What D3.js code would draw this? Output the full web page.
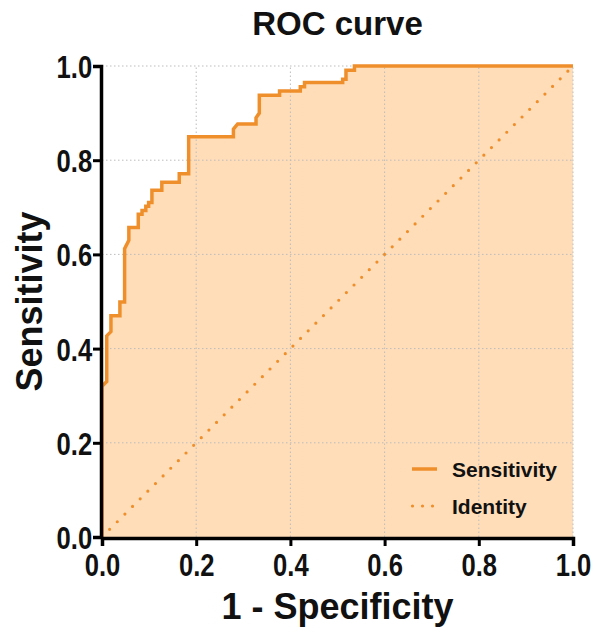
<!DOCTYPE html>
<html><head><meta charset="utf-8">
<script src="https://cdn.jsdelivr.net/npm/d3@7"></script>
<style>
html,body{margin:0;padding:0;background:#fff;}
text{font-family:"Liberation Sans",Arial,sans-serif;font-weight:bold;fill:#111;}
</style></head>
<body><svg id="c" width="597" height="633"></svg>
<script>
// ROC curve points (1 - specificity, sensitivity)
const fpr = [0,0,0.010,0.010,0.019,0.019,0.038,0.038,0.048,0.048,0.057,0.057,0.077,0.077,0.085,0.085,0.093,0.093,0.099,0.099,0.106,0.106,0.127,0.127,0.164,0.164,0.184,0.184,0.279,0.279,0.288,0.327,0.327,0.334,0.334,0.377,0.377,0.421,0.421,0.430,0.430,0.511,0.511,0.518,0.518,0.536,0.536,1];
const tpr = [0,0.320,0.330,0.427,0.436,0.470,0.470,0.499,0.499,0.612,0.630,0.657,0.657,0.685,0.685,0.693,0.693,0.702,0.702,0.710,0.710,0.736,0.736,0.753,0.753,0.771,0.771,0.850,0.850,0.866,0.877,0.877,0.890,0.900,0.938,0.938,0.947,0.947,0.956,0.956,0.965,0.965,0.972,0.972,0.991,0.991,1,1];
const identityX = [0,1];
const identityY = [0,1];
const xTicks = [0,0.2,0.4,0.6,0.8,1.0];
const yTicks = [0,0.2,0.4,0.6,0.8,1.0];
const seriesNames = ["Sensitivity","Identity"];
const title = "ROC curve";
const xTitle = "1 - Specificity";
const yTitle = "Sensitivity";

const orange = "#EF8F2C", fillC = "#FEDDB8";
const L = 102, R = 573, T = 66, B = 537;
const svg = d3.select("#c");
const x = d3.scaleLinear().domain([0,1]).range([L,R]);
const y = d3.scaleLinear().domain([0,1]).range([B,T]);
const pts = fpr.map((f,i)=>[f,tpr[i]]);

// fill
svg.append("path").datum(pts)
  .attr("d", d3.area().x(d=>x(d[0])).y0(y(0)).y1(d=>y(d[1])))
  .attr("fill", fillC);

// grid
const g = svg.append("g");
xTicks.filter(t=>t>0).forEach(t=>{
  g.append("line").attr("x1",x(t)).attr("x2",x(t)).attr("y1",y(0)).attr("y2",y(1))
   .attr("stroke","#bdbdbd").attr("stroke-width",1).attr("stroke-dasharray","1.5,2.5");
});
yTicks.filter(t=>t>0).forEach(t=>{
  g.append("line").attr("x1",x(0)).attr("x2",x(1)).attr("y1",y(t)).attr("y2",y(t))
   .attr("stroke","#bdbdbd").attr("stroke-width",1).attr("stroke-dasharray","1.5,2.5");
});

// identity
svg.append("path").datum(identityX.map((v,i)=>[v,identityY[i]]))
  .attr("d", d3.line().x(d=>x(d[0])).y(d=>y(d[1])))
  .attr("fill","none").attr("stroke",orange).attr("stroke-width",3.2)
  .attr("stroke-linecap","round").attr("stroke-dasharray","0,10.8");

// curve
svg.append("path").datum(pts)
  .attr("d", d3.line().x(d=>x(d[0])).y(d=>y(d[1])))
  .attr("fill","none").attr("stroke",orange).attr("stroke-width",3.5)
  .attr("stroke-linejoin","miter");

// axes
const ax = svg.append("g").attr("transform",`translate(0,${B+1})`)
  .call(d3.axisBottom(x).tickValues(xTicks).tickFormat(d3.format(".1f")).tickSize(8).tickPadding(7));
const ay = svg.append("g").attr("transform",`translate(${L-1},0)`)
  .call(d3.axisLeft(y).tickValues(yTicks).tickFormat(d3.format(".1f")).tickSize(8).tickPadding(3));
[ax,ay].forEach(a=>{
  a.select(".domain").attr("stroke","#000").attr("stroke-width",3.5);
  a.selectAll(".tick line").attr("stroke","#000").attr("stroke-width",3);
  a.selectAll(".tick text").attr("font-size",32).attr("fill","#111")
   .style("font-family","'Liberation Sans',Arial,sans-serif").style("font-weight","bold");
});
ax.selectAll(".tick text").attr("transform","scale(0.8,1)");
ay.selectAll(".tick text").attr("transform","scale(0.8,1)").attr("dy","0.36em");

// titles
svg.append("text").attr("x",(L+R)/2).attr("y",35).attr("text-anchor","middle")
  .attr("font-size",33).text(title);
svg.append("text").attr("x",(L+R)/2).attr("y",619).attr("text-anchor","middle")
  .attr("font-size",36).text(xTitle);
svg.append("text").attr("transform",`translate(42,${(T+B)/2}) rotate(-90)`).attr("text-anchor","middle")
  .attr("font-size",36).text(yTitle);

// legend
const lg = svg.append("g");
lg.append("line").attr("x1",412).attr("x2",437).attr("y1",469).attr("y2",469)
  .attr("stroke",orange).attr("stroke-width",3.5);
lg.append("text").attr("x",452).attr("y",477).attr("font-size",21).text(seriesNames[0]);
lg.append("line").attr("x1",412.5).attr("x2",433).attr("y1",506).attr("y2",506)
  .attr("stroke",orange).attr("stroke-width",3.2).attr("stroke-linecap","round").attr("stroke-dasharray","0,10");
lg.append("text").attr("x",452).attr("y",514).attr("font-size",21).text(seriesNames[1]);
</script></body></html>
